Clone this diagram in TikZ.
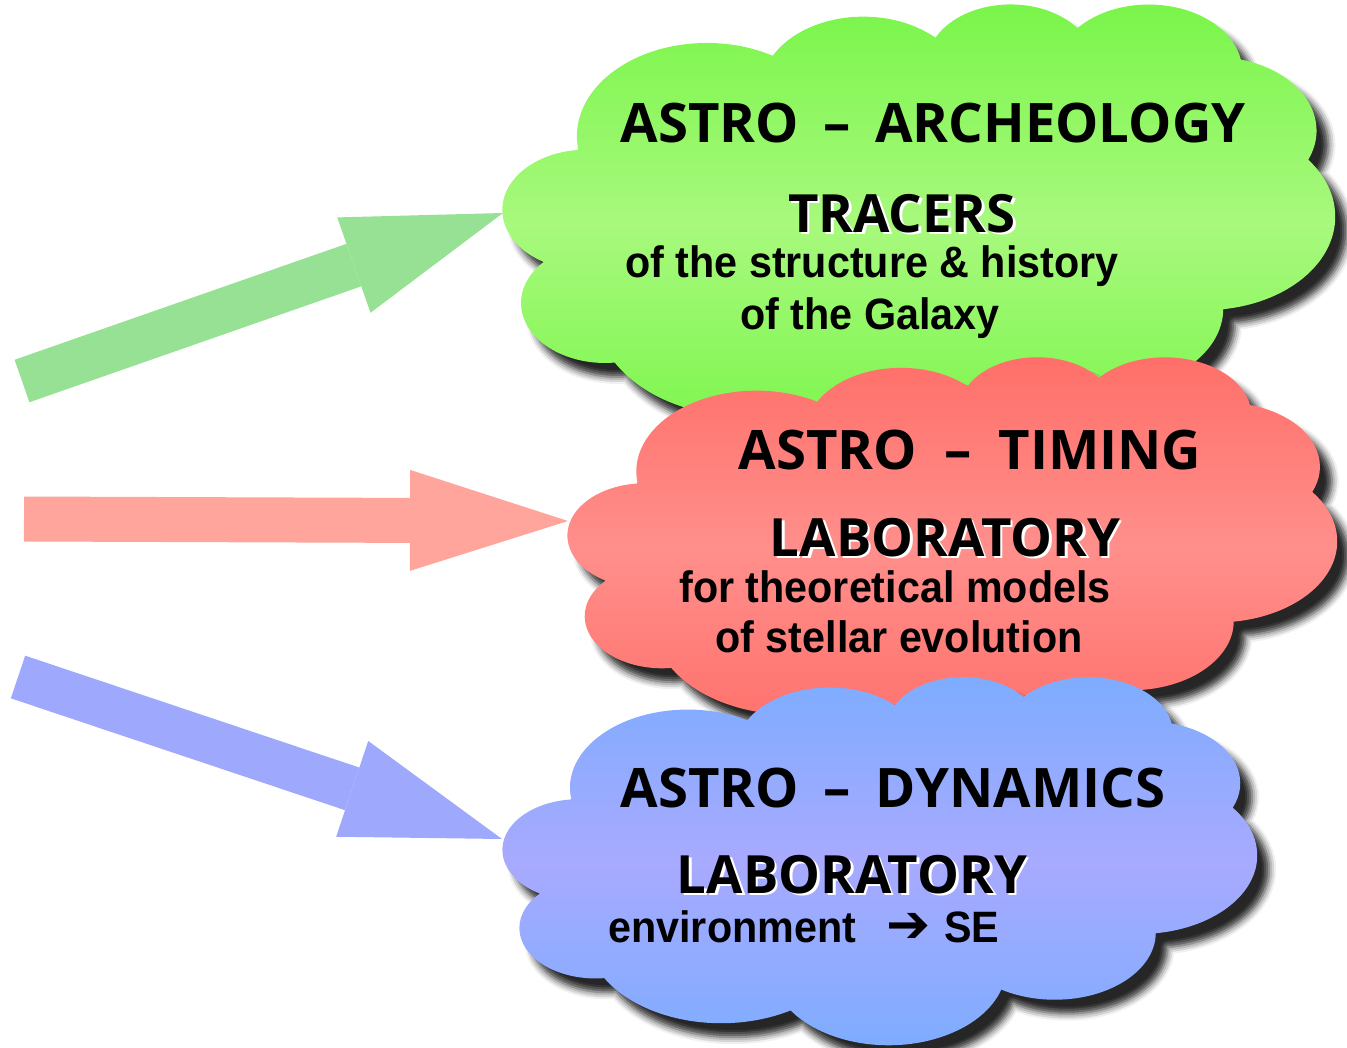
\documentclass[tikz,border=0pt]{standalone}
\usepackage{fontspec}
\setmainfont{Liberation Sans}
\newfontfamily\headfont{Open Sans}
\newfontfamily\bodyfont{Liberation Sans}[FakeStretch=0.94]
\newfontfamily\symfont{DejaVu Sans}
\usetikzlibrary{arrows.meta, shadows.blur}

\definecolor{archeotop}{RGB}{120,245,72}
\definecolor{archeomid}{RGB}{168,249,125}
\definecolor{timingtop}{RGB}{255,110,104}
\definecolor{timingmid}{RGB}{255,143,140}
\definecolor{dyntop}{RGB}{124,172,255}
\definecolor{dynmid}{RGB}{168,170,255}
\definecolor{archeoarrow}{RGB}{150,225,148}
\definecolor{timingarrow}{RGB}{255,165,155}
\definecolor{dynarrow}{RGB}{158,168,252}

% white halo behind the bold key words
\newcommand{\halo}[1]{\rlap{\smash{\textcolor{white}{\kern1.5pt\raisebox{-1.5pt}{#1}}}}#1}

% cloud outline in a unit box (y pointing down)
\newcommand{\cloudpath}{(0.09028,0.33264)
  arc[start angle=172.25, end angle=300.37, x radius=0.15632, y radius=0.21273]
  arc[start angle=-152.02, end angle=-45.45, x radius=0.12345, y radius=0.16822]
  arc[start angle=-153.49, end angle=-37.32, x radius=0.10104, y radius=0.13762]
  arc[start angle=-139.72, end angle=-10.22, x radius=0.11243, y radius=0.15266]
  arc[start angle=-74.77, end angle=23.21, x radius=0.12345, y radius=0.16836]
  arc[start angle=-37.54, end angle=81.86, x radius=0.15683, y radius=0.21343]
  arc[start angle=0.46, end angle=121.99, x radius=0.13391, y radius=0.18211]
  arc[start angle=16.85, end angle=146.25, x radius=0.15630, y radius=0.21331]
  arc[start angle=58.98, end angle=150.19, x radius=0.17870, y radius=0.24405]
  arc[start angle=83.31, end angle=223.12, x radius=0.10093, y radius=0.13699]
  arc[start angle=120.35, end angle=264.11, x radius=0.10058, y radius=0.13762]
  -- cycle}

% x, y (px), width, height (cm), top and middle colour
\newcommand{\cloud}[6]{%
  \shade[cloudbase, top color=#5, bottom color=#5, middle color=#6,
    shift={(#1,#2)}, x=#3cm, y=-#4cm] \cloudpath;}

\begin{document}
\begin{tikzpicture}[
    x=0.02cm, y=-0.02cm,
    cloudbase/.style={blur shadow={shadow xshift=0.24cm, shadow yshift=-0.28cm,
        shadow blur radius=0.14cm, shadow opacity=85}},
    bigarrow/.style={line width=0.9cm,
        -{Triangle[length=3.16cm, width=2.02cm, line width=0pt]}},
    head/.style={anchor=base, inner sep=0pt, font=\headfont\bfseries\fontsize{31}{37}\selectfont},
    key/.style={anchor=base, inner sep=0pt, font=\headfont\bfseries\fontsize{30}{36}\selectfont},
    body/.style={anchor=base, inner sep=0pt, font=\bodyfont\bfseries\fontsize{25}{30}\selectfont}
]
\useasboundingbox (0,0) rectangle (1347,1048);

% Arrows
\coordinate (archeotail) at (22,381);
\coordinate (archeoin) at (503,213);
\coordinate (timingtail) at (24,519);
\coordinate (timingin) at (568,521);
\coordinate (dyntail) at (18,677);
\coordinate (dynin) at (502,839);

\draw[bigarrow, archeoarrow] (archeotail) -- (archeoin);
\draw[bigarrow, timingarrow] (timingtail) -- (timingin);
\draw[bigarrow, dynarrow] (dyntail) -- (dynin);

% Astro-archeology
\cloud{503}{3}{16.64}{8.76}{archeotop}{archeomid}
\node[head] (archeotitle) at (933,142) {ASTRO\hspace{.45em}–\hspace{.45em}ARCHEOLOGY};
\node[key] (archeokey) at (902,232) {\halo{TRACERS}};
\node[body] (archeotext1) at (872,277) {of the structure \& history};
\node[body] (archeotext2) at (870,329) {of the Galaxy};

% Astro-timing
\cloud{568}{356}{15.38}{7.6}{timingtop}{timingmid}
\node[head] (timingtitle) at (970,469) {ASTRO\hspace{.5em}–\hspace{.5em}TIMING};
\node[key] (timingkey) at (945,556) {\halo{LABORATORY}};
\node[body] (timingtext1) at (895,602) {for theoretical models};
\node[body] (timingtext2) at (899,652) {of stellar evolution};

% Astro-dynamics
\cloud{503}{676}{15.08}{7.36}{dyntop}{dynmid}
\node[head] (dyntitle) at (893,807) {ASTRO\hspace{.45em}–\hspace{.45em}DYNAMICS};
\node[key] (dynkey) at (852,893) {\halo{LABORATORY}};
\node[body, anchor=base west] (dyntext) at (608,942)
    {environment\hspace{0.7em}\smash{\symfont\fontsize{30}{30}\selectfont ➔}\hspace{0.3em}SE};

\end{tikzpicture}
\end{document}
